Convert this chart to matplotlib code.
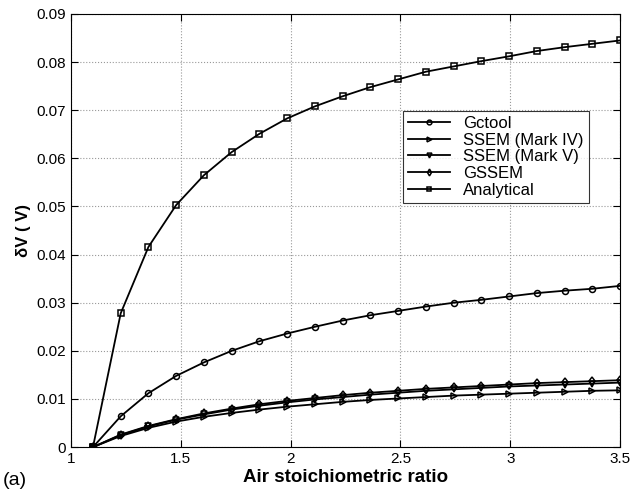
import numpy as np
import matplotlib
matplotlib.use('Agg')
import matplotlib.pyplot as plt

plt.rcParams['font.family'] = ['Liberation Sans', 'DejaVu Sans']

# air stoichiometric ratio, 20 samples
ratio = np.linspace(1.1, 3.5, 20)

gctool = [0, 0.0064, 0.0112, 0.0148, 0.0176, 0.0200, 0.0220, 0.0236, 0.0250, 0.0263,
          0.0274, 0.0283, 0.0292, 0.0300, 0.0306, 0.0313, 0.0320, 0.0325, 0.0329, 0.0335]
ssem_iv = [0, 0.0023, 0.0040, 0.0053, 0.0063, 0.0071, 0.0078, 0.0084, 0.0089, 0.0094,
           0.0098, 0.0101, 0.0104, 0.0107, 0.0109, 0.0111, 0.0113, 0.0115, 0.0117, 0.0118]
ssem_v = [0, 0.0025, 0.0043, 0.0057, 0.0068, 0.0078, 0.0086, 0.0093, 0.0099, 0.0104,
          0.0109, 0.0113, 0.0117, 0.0120, 0.0123, 0.0126, 0.0128, 0.0130, 0.0132, 0.0134]
gssem = [0, 0.0026, 0.0044, 0.0058, 0.0070, 0.0080, 0.0089, 0.0096, 0.0102, 0.0108,
         0.0113, 0.0117, 0.0121, 0.0124, 0.0127, 0.0130, 0.0133, 0.0135, 0.0137, 0.0139]
analytical = [0, 0.0278, 0.0416, 0.0503, 0.0565, 0.0613, 0.0651, 0.0683, 0.0708, 0.0729,
              0.0748, 0.0764, 0.0780, 0.0791, 0.0802, 0.0812, 0.0823, 0.0831, 0.0838, 0.0845]

labels = ['Gctool', 'SSEM (Mark IV)', 'SSEM (Mark V)', 'GSSEM', 'Analytical']
markers = ['o', '>', 'v', 'd', 's']
series = [gctool, ssem_iv, ssem_v, gssem, analytical]

fig = plt.figure(figsize=(6.34, 4.99), dpi=100)
ax = fig.add_axes([0.112, 0.104, 0.866, 0.868])

for ys, lab, m in zip(series, labels, markers):
    ax.plot(ratio, ys, color='black', lw=1.3, marker=m, ms=4.3,
            mfc='none', mec='black', mew=1.1, label=lab)

ax.set_xlim(1, 3.5)
ax.set_ylim(0, 0.09)
ax.set_xticks([1, 1.5, 2, 2.5, 3, 3.5])
ax.set_xticklabels(['1', '1.5', '2', '2.5', '3', '3.5'])
ax.set_yticks(np.arange(0, 0.091, 0.01))
ax.set_yticklabels(['0'] + ['%.2f' % v for v in np.arange(0.01, 0.091, 0.01)])
ax.tick_params(direction='in', top=True, right=True, labelsize=11, length=5)
ax.grid(True, linestyle=':', color='#999999', lw=0.8)

ax.set_xlabel('Air stoichiometric ratio', fontsize=13.5, fontweight='bold', labelpad=2)
ax.set_ylabel('δV ( V)', fontsize=12, fontweight='bold', labelpad=4)

leg = ax.legend(loc='upper left', bbox_to_anchor=(0.605, 0.776), fontsize=12,
                frameon=True, fancybox=False, edgecolor='black', handlelength=2.5,
                borderpad=0.3, labelspacing=0.1, handletextpad=0.8,
                borderaxespad=0, markerscale=0.8)
leg.get_frame().set_linewidth(0.8)

fig.text(0.005, 0.028, '(a)', fontsize=14)

fig.savefig('out.png', dpi=100)
